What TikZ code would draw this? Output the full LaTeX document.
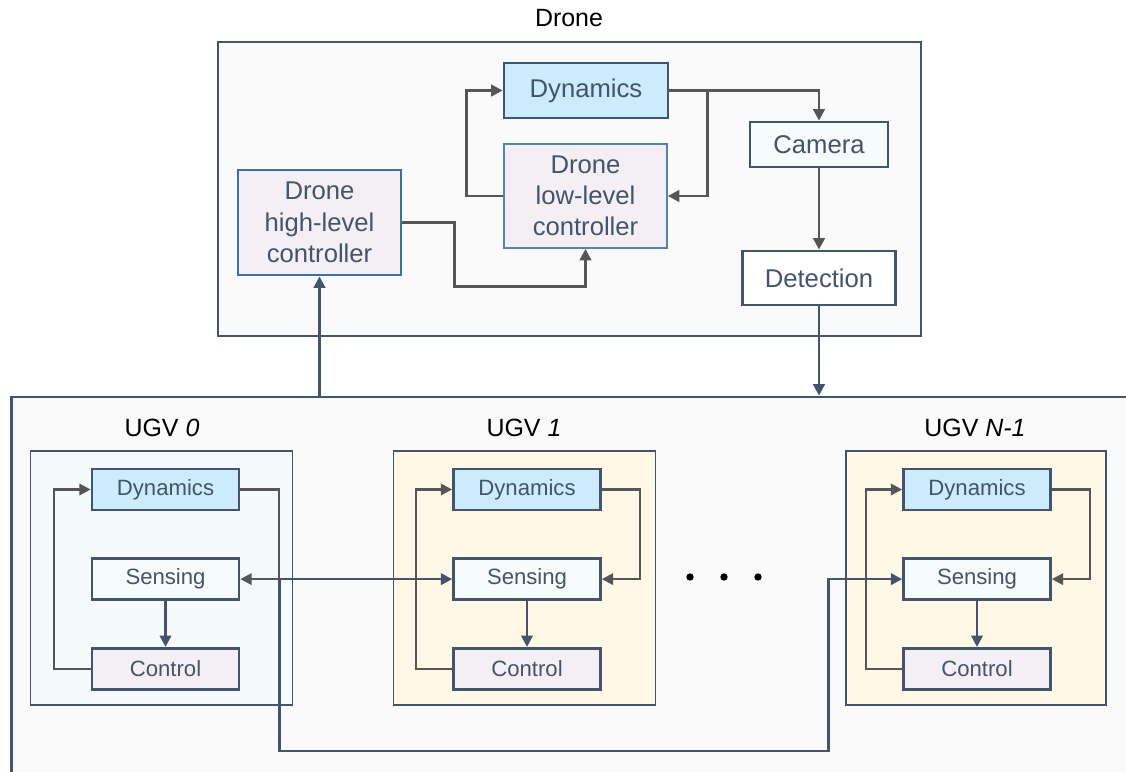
\documentclass[tikz,border=0pt]{standalone}
\usepackage{fontspec}
\setmainfont{Liberation Sans}
\usepackage{tikz}
\usetikzlibrary{positioning, arrows.meta, calc}

\definecolor{slate}{HTML}{44546A}
\definecolor{lineg}{HTML}{565656}
\definecolor{dynfill}{HTML}{CCEBFD}
\definecolor{ctrlfill}{HTML}{F3EFF5}
\definecolor{sensfill}{HTML}{F6FBFC}
\definecolor{uzerofill}{HTML}{F5FAFD}
\definecolor{uonefill}{HTML}{FFF8E6}
\definecolor{outerfill}{HTML}{FAFAFA}
\definecolor{lowborder}{HTML}{5A82B0}
\definecolor{highborder}{HTML}{41709C}

\begin{document}
\begin{tikzpicture}[x=0.02cm, y=-0.02cm, >={Triangle[length=6.5pt, width=6.5pt]},
    every node/.style={rectangle, draw=slate, text=slate, align=center, line width=1.6pt, inner sep=0pt},
    dbox/.style={font=\fontsize{14.6}{17.8}\selectfont},
    ubox/.style={minimum width=2.94cm, minimum height=0.82cm, font=\fontsize{12.6}{15}\selectfont, line width=1.5pt},
    group/.style={line width=1.6pt, fill=outerfill},
    ugvbox/.style={minimum width=5.24cm, minimum height=5.08cm, line width=1pt},
    title/.style={draw=none, text=black, font=\fontsize{14.2}{17}\selectfont},
    loopline/.style={->, draw=lineg, line width=1.6pt},
    ugvloop/.style={->, draw=lineg, line width=1.3pt},
    linkline/.style={->, draw=slate, line width=1.5pt}]
        \useasboundingbox (0,0) rectangle (1126,771);
        \fill[white] (0,0) rectangle (1126,771);
        \clip (0,0) rectangle (1126,771);

        % Container nodes
        \node[group, minimum width=14.06cm, minimum height=5.88cm] (drone) at (569.5,189) {};
        \node[title] (dronetitle) at (569,18) {Drone};
        \node[group, minimum width=22.98cm, minimum height=8.06cm] (ugvs) at (585.5,598.5) {};

        % Drone blocks
        \node[dbox, fill=dynfill, minimum width=3.28cm, minimum height=1.1cm] (ddyn) at (586,90.5) {Dynamics};
        \node[dbox, fill=ctrlfill, draw=lowborder, line width=1pt, minimum width=3.26cm, minimum height=2.08cm] (dlow) at (585.5,196) {Drone\\low-level\\controller};
        \node[dbox, fill=ctrlfill, draw=highborder, minimum width=3.26cm, minimum height=2.1cm] (dhigh) at (319.5,222.5) {Drone\\high-level\\controller};
        \node[dbox, fill=sensfill, minimum width=2.76cm, minimum height=0.9cm] (dcam) at (819,144.5) {Camera};
        \node[dbox, fill=white, minimum width=3.06cm, minimum height=1.08cm] (ddet) at (819,278) {Detection};

        % UGV groups
        \node[ugvbox, fill=uzerofill] (ugvzero) at (161.5,578) {};
        \node[ugvbox, fill=uonefill] (ugvone) at (524.5,578) {};
        \node[ugvbox, fill=uonefill, minimum width=5.2cm] (ugvlast) at (976,578) {};
        \node[title] (ugvzerotitle) at (162,428) {UGV \textit{0}};
        \node[title] (ugvonetitle) at (524,428) {UGV \textit{1}};
        \node[title] (ugvlasttitle) at (975,428) {UGV \textit{N-1}};

        \node[ubox, fill=dynfill] (dyn0) at (165.5,489.5) {Dynamics};
        \node[ubox, fill=sensfill, below=0.92cm of dyn0] (sen0) {Sensing};
        \node[ubox, fill=ctrlfill, below=0.92cm of sen0] (ctl0) {Control};

        \node[ubox, fill=dynfill] (dyn1) at (527,489.5) {Dynamics};
        \node[ubox, fill=sensfill, below=0.92cm of dyn1] (sen1) {Sensing};
        \node[ubox, fill=ctrlfill, below=0.92cm of sen1] (ctl1) {Control};

        \node[ubox, fill=dynfill] (dynN) at (977,489.5) {Dynamics};
        \node[ubox, fill=sensfill, below=0.92cm of dynN] (senN) {Sensing};
        \node[ubox, fill=ctrlfill, below=0.92cm of senN] (ctlN) {Control};

        \fill (690,577) circle[radius=2.1pt] (724,577) circle[radius=2.1pt] (758,577) circle[radius=2.1pt];

        % Drone connections
        \draw[loopline] (ddyn.east) -| (dcam.north);
        \draw[loopline] (ddyn.east) -- ++(38,0) |- (dlow.east);
        \draw[loopline] (dlow.west) -- ++(-37,0) |- (ddyn.west);
        \draw[loopline] (dhigh.east) -- ++(52,0) -- ++(0,64) -| (dlow.south);
        \draw[loopline] (dcam.south) -- (dcam.south |- ddet.north);
        \draw[linkline] (ddet.south) -- (ddet.south |- ugvs.north);
        \draw[linkline] (dhigh.south |- ugvs.north) -- (dhigh.south);

        % UGV connections
        \draw[ugvloop] (ctl0.west) -- ++(-37,0) |- (dyn0.west);
        \draw[ugvloop] (dyn0.east) -- ++(39,0) |- (sen0.east);
        \draw[linkline] (sen0) -- (ctl0);
        \draw[ugvloop] (ctl1.west) -- ++(-36,0) |- (dyn1.west);
        \draw[ugvloop] (dyn1.east) -- ++(38,0) |- (sen1.east);
        \draw[linkline] (sen1) -- (ctl1);
        \draw[ugvloop] (ctlN.west) -- ++(-36,0) |- (dynN.west);
        \draw[ugvloop] (dynN.east) -- ++(38,0) |- (senN.east);
        \draw[linkline] (senN) -- (ctlN);

        \coordinate (hub) at ($(sen0.east)+(39,0)$);
        \draw[linkline] (hub) -- (sen1.west);
        \draw[linkline] (hub) -- ++(0,172) -| ($(senN.west)+(-74,0)$) -- (senN.west);
    \end{tikzpicture}
\end{document}
